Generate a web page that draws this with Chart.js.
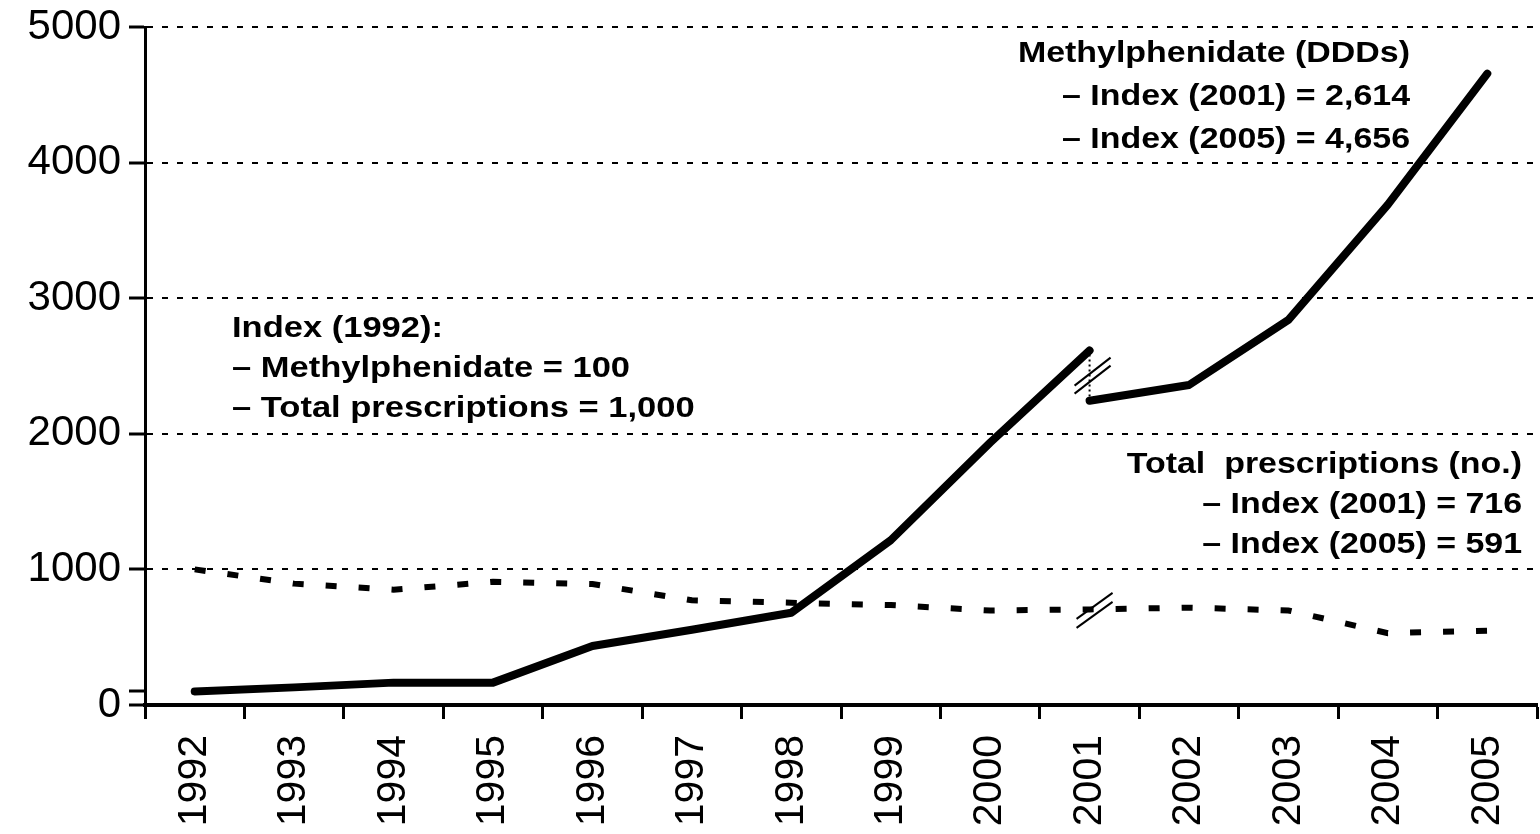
<!doctype html>
<html lang="en">
<head>
    <meta charset="utf-8">
    <title>Methylphenidate vs total prescriptions - index</title>
    <script src="https://cdn.jsdelivr.net/npm/chart.js"></script>
    <style>
        html, body { margin: 0; padding: 0; background: #fff; }
        #wrap { width: 1540px; height: 834px; position: relative; }
    </style>
</head>
<body>
<div id="wrap">
    <canvas id="chart-0" width="1540" height="834"></canvas>
</div>
<script>
    // 데이터
    const years = ['1992','1993','1994','1995','1996','1997','1998','1999','2000','2001','2002','2003','2004','2005'];
    // methylphenidate DDDs index - before the break (1992 = 100)
    const mphBefore = [100, 130, 165, 165, 435, 555, 680, 1215, 1935, 2614, null, null, null, null];
    // methylphenidate DDDs index - after the break
    const mphAfter = [null, null, null, null, null, null, null, null, null, 2244, 2360, 2840, 3690, 4656];
    // total prescriptions index (1992 = 1,000)
    const totalRx = [1000, 895, 850, 908, 892, 772, 754, 737, 697, 705, 718, 697, 530, 548];
    const yTicks = [0, 1000, 2000, 3000, 4000, 5000];
    const baseTick = 100; // unlabeled tick at index 100

    const noteMph = ['Methylphenidate (DDDs)', '\u2013 Index (2001) = 2,614', '\u2013 Index (2005) = 4,656'];
    const noteBase = ['Index (1992):', '\u2013 Methylphenidate = 100', '\u2013 Total prescriptions = 1,000'];
    const noteRx = ['Total  prescriptions (no.)', '\u2013 Index (2001) = 716', '\u2013 Index (2005) = 591'];

    const FONT = '"Liberation Sans", Arial, Helvetica, sans-serif';

    // 텍스트 + 축 끊김 표시
    const notesPlugin = {
        id: 'notes',
        afterDatasetsDraw(chart) {
            const {ctx, scales: {x, y}} = chart;
            const bx = x.getPixelForValue(9);

            // break on methylphenidate line
            const y1 = y.getPixelForValue(mphBefore[9]);
            const y2 = y.getPixelForValue(mphAfter[9]);
            ctx.save();
            ctx.strokeStyle = '#000';
            ctx.lineWidth = 2;
            ctx.setLineDash([2, 3]);
            ctx.beginPath();
            ctx.moveTo(bx, y1 + 4);
            ctx.lineTo(bx, y2 - 4);
            ctx.stroke();
            ctx.setLineDash([]);
            const drawSlashes = (cx, cy, dx, dy, gap) => {
                [-gap / 2, gap / 2].forEach(o => {
                    ctx.beginPath();
                    ctx.moveTo(cx - dx, cy + dy + o);
                    ctx.lineTo(cx + dx, cy - dy + o);
                    ctx.stroke();
                });
            };
            drawSlashes(bx + 3, (y1 + y2) / 2, 18, 14, 8);
            // break on total prescriptions line
            drawSlashes(bx + 5, y.getPixelForValue(totalRx[9]) + 1, 18, 13, 9);
            ctx.restore();

            // notes
            const sx = 1.17;
            const drawBlock = (lines, px, py, step, align, size) => {
                ctx.save();
                ctx.fillStyle = '#000';
                ctx.font = 'bold ' + size + 'px ' + FONT;
                ctx.textAlign = align;
                ctx.textBaseline = 'alphabetic';
                ctx.scale(sx, 1);
                lines.forEach((t, i) => ctx.fillText(t, px / sx, py + i * step));
                ctx.restore();
            };
            drawBlock(noteMph, 1410, 62, 43, 'right', 29);
            drawBlock(noteBase, 232, 337, 40, 'left', 29.5);
            drawBlock(noteRx, 1522, 473, 40, 'right', 29);
        }
    };

    window.addEventListener('load', () => {
        const ctx = document.querySelector('canvas#chart-0');
        window.myChart0 = new Chart(ctx, {
            type: 'line',
            data: {
                labels: years,
                datasets: [
                    { label: 'Methylphenidate (DDDs)', data: mphBefore, borderColor: '#000', borderWidth: 8,
                      borderCapStyle: 'round', borderJoinStyle: 'round', pointRadius: 0, spanGaps: false },
                    { label: 'Methylphenidate (DDDs) after', data: mphAfter, borderColor: '#000', borderWidth: 8,
                      borderCapStyle: 'round', borderJoinStyle: 'round', pointRadius: 0, spanGaps: false },
                    { label: 'Total prescriptions (no.)', data: totalRx, borderColor: '#000', borderWidth: 6,
                      borderDash: [11, 22], borderCapStyle: 'butt', pointRadius: 0 }
                ]
            },
            options: {
                responsive: false,
                animation: false,
                devicePixelRatio: 1,
                layout: { padding: { left: 0, top: 27, right: 3, bottom: 0 } },
                plugins: {
                    legend: { display: false },
                    tooltip: { enabled: false },
                    title: { display: false }
                },
                elements: { line: { tension: 0 } },
                scales: {
                    x: {
                        type: 'category',
                        offset: true,
                        grid: { offset: true, drawOnChartArea: false, drawTicks: true, tickLength: 14,
                                tickWidth: 3, tickColor: '#000', color: '#000' },
                        border: { color: '#000', width: 4 },
                        ticks: { minRotation: 90, maxRotation: 90, autoSkip: false, padding: 16,
                                 color: '#000', font: { size: 41, family: FONT } },
                        afterFit(scale) {
                            scale.height = 129;
                            scale.paddingLeft = 0;
                            scale.paddingRight = 0;
                        }
                    },
                    y: {
                        min: 0,
                        max: 5000,
                        afterBuildTicks(axis) {
                            axis.ticks = yTicks.concat([baseTick]).sort((a, b) => a - b).map(v => ({ value: v }));
                        },
                        grid: {
                            color: c => (c.tick && (c.tick.value === 0 || c.tick.value === baseTick)) ? 'rgba(0,0,0,0)' : '#000',
                            lineWidth: 2,
                            tickLength: 16,
                            tickWidth: 3,
                            tickColor: '#000',
                            tickBorderDash: []
                        },
                        border: { color: '#000', width: 3, dash: [6, 9] },
                        ticks: {
                            autoSkip: false,
                            padding: 8,
                            color: '#000',
                            font: { size: 42, family: FONT },
                            callback: v => (v === baseTick ? '' : String(v))
                        },
                        afterFit(scale) {
                            scale.width = 145;
                            scale.paddingTop = 0;
                            scale.paddingBottom = 0;
                        }
                    }
                }
            },
            plugins: [notesPlugin]
        });
    });
</script>
</body>
</html>
